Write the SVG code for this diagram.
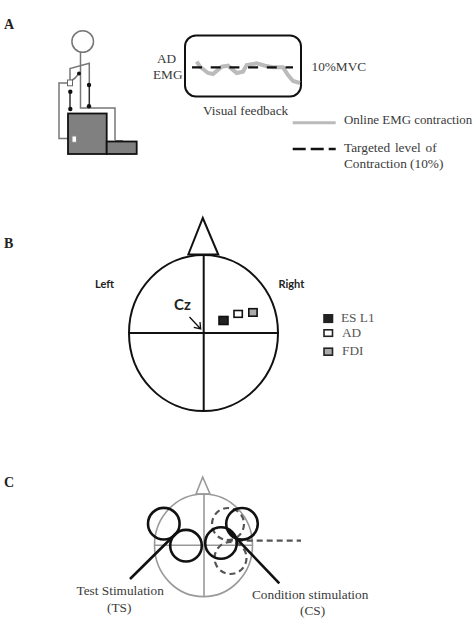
<svg xmlns="http://www.w3.org/2000/svg" width="474" height="620" viewBox="0 0 474 620">
<style>
.serif{font-family:"Liberation Serif","Times New Roman",serif;font-size:13.300px;fill:#3a3a3a}
.muted{fill:#555}
.panel{font-family:"Liberation Serif",serif;font-size:14px;font-weight:bold;fill:#222}
.sans{font-family:Lato,"Open Sans","Liberation Sans",sans-serif;font-weight:bold;fill:#222}
.g{fill:none;stroke:#777;stroke-width:1.500}
.w{fill:none;stroke:#333;stroke-width:1.500}
.k{fill:none;stroke:#111;stroke-width:2}
.head{fill:none;stroke:#999;stroke-width:1.600}
.coil{fill:none;stroke:#111;stroke-width:2.600}
.dash{fill:none;stroke:#555;stroke-width:2.200;stroke-dasharray:6 4}
.dot{fill:#111}
.block{fill:#808080;stroke:#111;stroke-width:1.800}
.sq{stroke:#222;stroke-width:1.600}
</style>
<rect width="474" height="620" fill="#fff"/>
<text class="panel" x="4" y="29">A</text>
<text class="panel" x="4" y="248">B</text>
<text class="panel" x="4" y="487">C</text>

<g id="subject">
<circle class="g" cx="82.700" cy="41.500" r="10.800"/>
<path class="g" d="M80.500 52V108H115V140"/>
<path class="g" d="M70 82V68.500L89.300 63.300V85"/>
<path class="w" d="M70 92V109M89.300 85V106.500"/>
<path class="g" d="M68 83H59V138.500H72"/>
<path class="g" d="M71 81Q75 79 79 73.500"/>
<path d="M115 140.500H123" fill="none" stroke="#777" stroke-width="1"/>
<rect class="block" x="68" y="113.500" width="38.700" height="40.500"/>
<rect class="block" x="106.700" y="141.500" width="30" height="12.500"/>
<rect x="72" y="136" width="4.500" height="6.300" fill="#fff" stroke="#888"/>
<rect x="67.500" y="80" width="5" height="5.800" fill="#fff" stroke="#666"/>
<circle class="dot" cx="79" cy="73.500" r="2"/>
<circle class="dot" cx="70.300" cy="91.700" r="2.200"/>
<circle class="dot" cx="70.300" cy="109" r="2.200"/>
<circle class="dot" cx="89" cy="85" r="2.200"/>
<circle class="dot" cx="89" cy="106.300" r="2.200"/>
</g>

<g id="feedback">
<rect x="185" y="35.500" width="116" height="61" rx="11" fill="none" stroke="#111" stroke-width="2"/>
<path d="M196.700 61.700L200 66.700L208 73L213 74L221.700 66.700L228 65.700L236.700 73L243 71.700L246.700 65L256.700 63.300L265 65.700L273 67.300L283 67.300L288 75L293 81L300 83" fill="none" stroke="#bbb" stroke-width="4"/>
<path d="M192 67.300H293" fill="none" stroke="#111" stroke-width="2.300" stroke-dasharray="10 8.700"/>
<text class="serif" x="157" y="63">AD</text>
<text class="serif" x="153" y="79">EMG</text>
<text class="serif" x="311.500" y="71">10%MVC</text>
<text class="serif" x="203" y="115">Visual feedback</text>
</g>

<g id="feedback-legend">
<path d="M292.700 122.700H335.700" fill="none" stroke="#bbb" stroke-width="3"/>
<text class="serif" x="344" y="124" style="font-size:12.900px">Online EMG contraction</text>
<path d="M292.700 149H335.700" fill="none" stroke="#111" stroke-width="2.500" stroke-dasharray="13 5"/>
<text class="serif" x="344" y="152" word-spacing="1.500">Targeted level of</text>
<text class="serif" x="344" y="168">Contraction (10%)</text>
</g>

<g id="head-map">
<ellipse class="k" cx="203.500" cy="333" rx="74.500" ry="78"/>
<path class="k" d="M203.700 255V411.500M129 333H278"/>
<path class="k" d="M188.300 254.500L202.800 218L218.300 254.500Z"/>
<text class="sans" x="95" y="287.500" font-size="11">Left</text>
<text class="sans" x="278.500" y="288" font-size="11">Right</text>
<text class="sans" x="174" y="310" font-size="15">Cz</text>
<path d="M189.500 317L200.500 328.700M193.800 327.300L200.700 329L200 322" fill="none" stroke="#111" stroke-width="1.300"/>
<rect x="219" y="316.500" width="9" height="8" fill="#222" stroke="#111" stroke-width="1.600"/>
<rect x="234" y="310.500" width="8.300" height="6.800" fill="#fff" stroke="#111" stroke-width="1.600"/>
<rect x="248.800" y="308.700" width="8.300" height="7.500" fill="#aaa" stroke="#111" stroke-width="1.600"/>
</g>

<g id="muscle-legend">
<rect class="sq" x="324" y="314.800" width="8.500" height="7.500" fill="#222"/>
<rect class="sq" x="324" y="329.800" width="8.500" height="6.500" fill="#fff"/>
<rect class="sq" x="324" y="348.200" width="8.500" height="7" fill="#aaa"/>
<text class="serif muted" x="341" y="322.300">ES L1</text>
<text class="serif muted" x="342" y="336.700">AD</text>
<text class="serif muted" x="342" y="355">FDI</text>
</g>

<g id="stim-head">
<ellipse class="head" cx="203.500" cy="545.300" rx="49" ry="51.300"/>
<path class="head" d="M204 494V596.500M154.500 545.300H252.500"/>
<path class="head" d="M196 494L202.700 477L210 494Z"/>
</g>

<g id="coils">
<circle class="dash" cx="228" cy="524" r="16"/>
<circle class="dash" cx="230.500" cy="558" r="16"/>
<path class="dash" d="M226.700 540.700H301" stroke-dasharray="8 5"/>
<circle class="coil" cx="163.800" cy="523.700" r="15.800"/>
<circle class="coil" cx="186" cy="545.700" r="15.800"/>
<circle class="coil" cx="221" cy="543" r="15.800"/>
<circle class="coil" cx="242" cy="523.800" r="15.800"/>
<path class="coil" d="M130 579L178 531.500M279.300 583.300L226.700 528.300"/>
</g>

<g id="stim-labels">
<text class="serif" x="76.500" y="595">Test Stimulation</text>
<text class="serif" x="107" y="612">(TS)</text>
<text class="serif" x="252" y="599">Condition stimulation</text>
<text class="serif" x="300" y="615">(CS)</text>
</g>
</svg>
